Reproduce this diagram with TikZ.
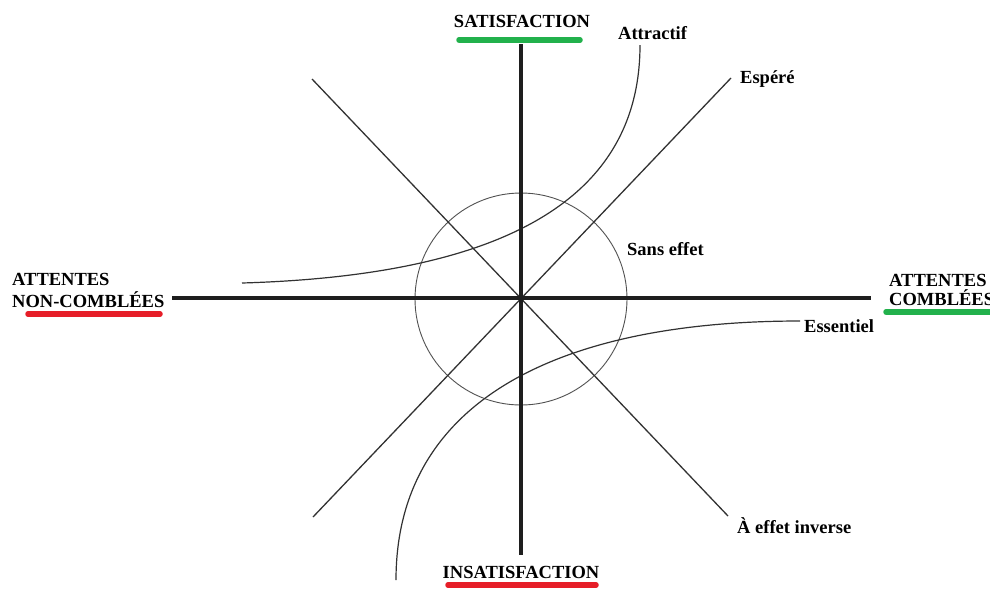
\documentclass[tikz,border=0pt]{standalone}
\usepackage{fontspec}
\setmainfont{Liberation Serif}
\definecolor{ulgreen}{RGB}{34,177,76}
\definecolor{ulred}{RGB}{230,30,40}
\definecolor{axisc}{RGB}{30,30,30}
\definecolor{thinc}{RGB}{50,50,50}
\begin{document}
\begin{tikzpicture}[x=1pt,y=-1pt,
  axisline/.style={draw=axisc,line width=3.6pt},
  thinline/.style={draw=thinc,line width=1.3pt},
  curveline/.style={draw=thinc,line width=1.2pt},
  ring/.style={draw=thinc!85,line width=0.9pt},
  uline/.style={line width=5.5pt,line cap=round},
  biglab/.style={inner sep=0pt,font=\fontsize{18.5}{22}\selectfont\bfseries},
  lab/.style={inner sep=0pt,font=\fontsize{18.5}{22}\selectfont\bfseries}
]
\useasboundingbox (0,0) rectangle (990,590);
\fill[white] (0,0) rectangle (990,590);

% coordinates
\coordinate (O) at (521,298);
\coordinate (vt) at (521,44);
\coordinate (vb) at (521,555);
\coordinate (hl) at (172,298);
\coordinate (hr) at (871,298);
\coordinate (ebl) at (313,517);
\coordinate (etr) at (731,78);
\coordinate (itl) at (312,79);
\coordinate (ibr) at (728,516);
\coordinate (as) at (242,283);
\coordinate (ae) at (640,45);
\coordinate (es) at (800,321);
\coordinate (ee) at (396,580);

% circle
\draw[ring] (521,299) circle[radius=106];

% diagonals
\draw[thinline] (ebl) -- (etr);
\draw[thinline] (itl) -- (ibr);

% curves
\draw[curveline] (as) .. controls (480,276) and (640,212) .. (ae);
\draw[curveline] (es) .. controls (560,321) and (396,400) .. (ee);

% axes
\draw[axisline] (vt) -- (vb);
\draw[axisline] (hl) -- (hr);

% labels
\node[biglab,anchor=base] (sat) at (522,27) {SATISFACTION};
\node[biglab,anchor=base] (insat) at (521,578) {INSATISFACTION};
\node[biglab,anchor=base west,align=left] (nc1) at (12,285) {ATTENTES};
\node[biglab,anchor=base west] (nc2) at (12,307) {NON-COMBLÉES};
\node[biglab,anchor=base west] (c1) at (889,286) {ATTENTES};
\node[biglab,anchor=base west] (c2) at (889,305) {COMBLÉES};
\node[lab,anchor=base west] (attr) at (618,39) {Attractif};
\node[lab,anchor=base west] (esp) at (740,83) {Espéré};
\node[lab,anchor=base west] (sans) at (627,255) {Sans effet};
\node[lab,anchor=base west] (ess) at (804,332) {Essentiel};
\node[lab,anchor=base west] (inv) at (737,533) {À effet inverse};

% underlines
\draw[uline,ulgreen] (459,40) -- (580,40);
\draw[uline,ulred] (448,585) -- (596,585);
\draw[uline,ulred] (28,314) -- (160,314);
\draw[uline,ulgreen] (886,312) -- (1000,312);
\end{tikzpicture}
\end{document}
